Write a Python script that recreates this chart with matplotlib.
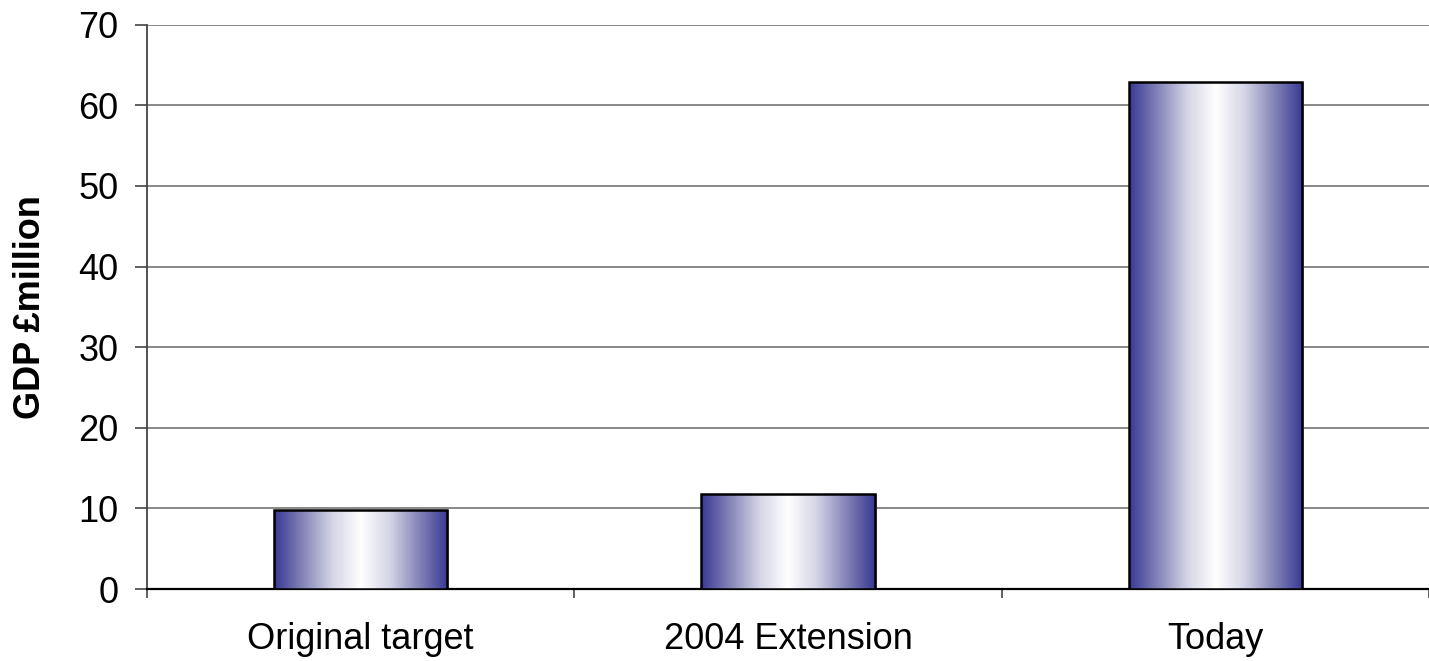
import numpy as np
import matplotlib
matplotlib.use('Agg')
import matplotlib.pyplot as plt
from matplotlib.colors import LinearSegmentedColormap
from matplotlib.patches import Rectangle

plt.rcParams['font.family'] = ['Liberation Sans', 'DejaVu Sans']

categories = ['Original target', '2004 Extension', 'Today']
gdp = [9.8, 11.8, 62.9]
yticks = [0, 10, 20, 30, 40, 50, 60, 70]

fig = plt.figure(figsize=(14.29, 6.61), dpi=100)
ax = fig.add_axes([0.1029, 0.1089, 0.8971, 0.8537])

# blue -> white -> blue horizontal shading for each bar
cmap = LinearSegmentedColormap.from_list('barshade', ['#393994', '#8585b8', '#d4d4e6', '#ffffff',
                                                     '#d4d4e6', '#8585b8', '#393994'])
grad = np.linspace(0, 1, 256).reshape(1, -1)

width = 0.405
x = np.arange(len(categories))
bars = ax.bar(x, gdp, width=width, facecolor='none', edgecolor='black', linewidth=1.8, zorder=4)
for b in bars:
    x0, y0 = b.get_x(), b.get_y()
    w, h = b.get_width(), b.get_height()
    # thin drop shadow on the right edge
    ax.add_patch(Rectangle((x0 + 0.005, y0), w, h, facecolor='#a0a0a0',
                           edgecolor='none', zorder=2))
    im = ax.imshow(grad, extent=(x0, x0 + w, y0, y0 + h), aspect='auto',
                   cmap=cmap, zorder=3, interpolation='bilinear')
    im.set_clip_path(b)

ax.set_xlim(-0.5, 2.5)
ax.set_ylim(0, 70)
ax.set_yticks(yticks)
ax.set_xticks(x)
ax.set_xticklabels(categories)
ax.set_xticks([-0.5, 0.5, 1.5, 2.5], minor=True)

ax.tick_params(axis='y', labelsize=26, length=8.5, width=1.2, color='#444444', pad=12)
ax.tick_params(axis='x', which='major', labelsize=26, length=0, pad=24)
ax.tick_params(axis='x', which='minor', length=6.5, width=1.2, color='#444444')

ax.grid(axis='y', color='#7f7f7f', linewidth=1.3, zorder=1)
ax.set_axisbelow(True)
for s in ['top', 'right']:
    ax.spines[s].set_visible(False)
ax.spines['left'].set_color('#444444')
ax.spines['left'].set_linewidth(1.3)
ax.spines['bottom'].set_color('black')
ax.spines['bottom'].set_linewidth(1.6)

ax.set_ylabel('GDP £million', fontsize=26, fontweight='bold', labelpad=22)

fig.savefig('out.png', dpi=100)
